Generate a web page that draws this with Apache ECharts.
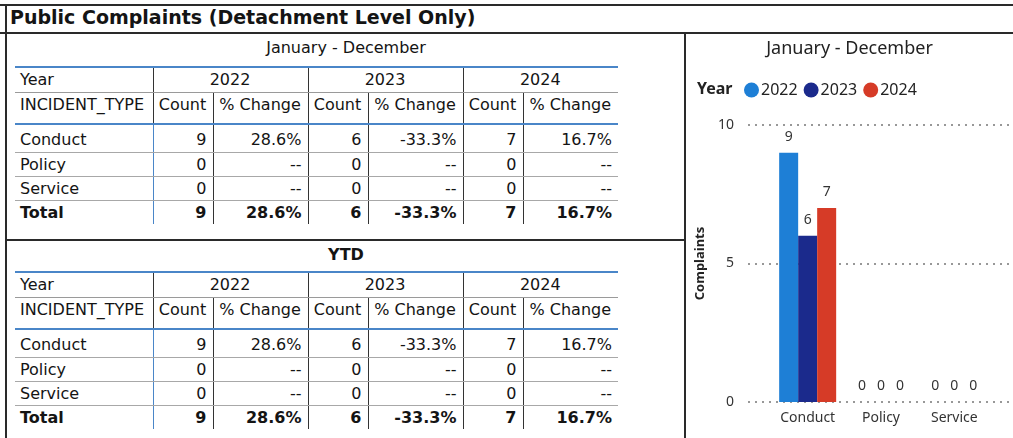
<!DOCTYPE html>
<html>
<head>
<meta charset="utf-8">
<script src="https://cdn.jsdelivr.net/npm/echarts@6/dist/echarts.min.js"></script>
<style>
  html, body { margin: 0; padding: 0; background: #fff; }
  body { width: 1013px; height: 438px; position: relative; overflow: hidden; font-family: "DejaVu Sans", sans-serif; color: #141414; }
  .line { position: absolute; background: #2a2a2a; }
  .title { position: absolute; left: 10px; top: 6px; font-size: 19px; font-weight: bold; }
  .caption { position: absolute; left: 7px; width: 678px; text-align: center; font-size: 16px; }
  table { position: absolute; left: 15px; border-collapse: collapse; table-layout: fixed; font-size: 16px; }
  td { padding: 0 6px 0 5px; height: 23px; white-space: nowrap; line-height: 20px; }
  tr.h1 td { border-top: 2px solid #4a86c8; border-bottom: 1px solid #9a9a9a; height: 24px; }
  tr.h2 td { border-bottom: 2px solid #4a86c8; height: 28px; vertical-align: top; padding-top: 2px; }
  tr.b td { border-bottom: 1px solid #a8a8a8; }
  tr.b.first td { height: 25px; padding-top: 2px; }
  tr.b.last td { border-bottom: none; font-weight: bold; }
  td.c { text-align: center; }
  td.r { text-align: right; }
  td.vl { border-left: 1px solid #333; }
  td.vb { border-left: 1px solid #4a86c8; }
  #chart { position: absolute; left: 686px; top: 34px; width: 327px; height: 404px; }
</style>
</head>
<body>
<div class="line" style="left:0;top:4px;width:1013px;height:2px"></div>
<div class="line" style="left:0;top:32px;width:1013px;height:2px"></div>
<div class="line" style="left:5px;top:4px;width:2px;height:434px"></div>
<div class="line" style="left:684px;top:32px;width:2px;height:406px"></div>
<div class="line" style="left:5px;top:239px;width:681px;height:2px"></div>
<div class="title">Public Complaints (Detachment Level Only)</div>
<div class="caption" style="top:38px">January - December</div>
<div class="caption" style="top:245px;font-weight:bold">YTD</div>
<table id="t1" style="top:66px"></table>
<table id="t2" style="top:271px"></table>
<div id="chart"></div>
<script>
const years = ["2022", "2023", "2024"];
const incidentTypes = ["Conduct", "Policy", "Service"];

// January - December
const count2022 = [9, 0, 0];
const count2023 = [6, 0, 0];
const count2024 = [7, 0, 0];
const pct2022 = ["28.6%", "--", "--"];
const pct2023 = ["-33.3%", "--", "--"];
const pct2024 = ["16.7%", "--", "--"];
const totalCount = [9, 6, 7];
const totalPct = ["28.6%", "-33.3%", "16.7%"];

// YTD
const ytdCount2022 = [9, 0, 0];
const ytdCount2023 = [6, 0, 0];
const ytdCount2024 = [7, 0, 0];
const ytdPct2022 = ["28.6%", "--", "--"];
const ytdPct2023 = ["-33.3%", "--", "--"];
const ytdPct2024 = ["16.7%", "--", "--"];
const ytdTotalCount = [9, 6, 7];
const ytdTotalPct = ["28.6%", "-33.3%", "16.7%"];

const colWidths = [138, 60, 95, 60, 95, 60, 95];
const barColors = ["#1e7fd6", "#1b2a8c", "#d63b27"];

const buildTable = (el, counts, pcts, totals, totalPcts) => {
  let html = "<colgroup>" + colWidths.map((w) => `<col style="width:${w}px">`).join("") + "</colgroup>";
  html += `<tr class="h1"><td>Year</td>` +
    years.map((y) => `<td class="c vl" colspan="2">${y}</td>`).join("") + "</tr>";
  html += `<tr class="h2"><td>INCIDENT_TYPE</td>` +
    years.map(() => `<td class="c vl">Count</td><td class="c vl">% Change</td>`).join("") + "</tr>";
  incidentTypes.forEach((type, i) => {
    const cls = i === 0 ? "b first" : "b";
    html += `<tr class="${cls}"><td>${type}</td>` +
      years.map((_, k) => `<td class="r ${k === 0 ? "vb" : "vl"}">${counts[k][i]}</td><td class="r vl">${pcts[k][i]}</td>`).join("") +
      "</tr>";
  });
  html += `<tr class="b last"><td>Total</td>` +
    years.map((_, k) => `<td class="r ${k === 0 ? "vb" : "vl"}">${totals[k]}</td><td class="r vl">${totalPcts[k]}</td>`).join("") +
    "</tr>";
  el.innerHTML = html;
};

buildTable(document.getElementById("t1"), [count2022, count2023, count2024], [pct2022, pct2023, pct2024], totalCount, totalPct);
buildTable(document.getElementById("t2"), [ytdCount2022, ytdCount2023, ytdCount2024], [ytdPct2022, ytdPct2023, ytdPct2024], ytdTotalCount, ytdTotalPct);

const chart = echarts.init(document.getElementById("chart"));
const seriesData = [count2022, count2023, count2024];

chart.setOption({
  animation: false,
  textStyle: { fontFamily: "Noto Sans" },
  title: [
    { text: "January - December", left: "center", top: 1, textStyle: { fontSize: 18, fontWeight: "normal", color: "#222" } },
    { text: "Year", left: 6, top: 42, textStyle: { fontSize: 16, fontWeight: "bold", color: "#222" } },
  ],
  legend: {
    left: 53,
    top: 43,
    icon: "circle",
    itemWidth: 15,
    itemHeight: 15,
    itemGap: 6,
    textStyle: { fontSize: 16, color: "#222", padding: [0, 0, 0, -3] },
    data: years,
  },
  grid: [
    { left: 62, right: 0, top: 91, bottom: 36 },
    { left: 85, right: 22, top: 91, bottom: 36 },
  ],
  xAxis: [
    { type: "category", gridIndex: 0, data: incidentTypes, show: false },
    {
      type: "category",
      gridIndex: 1,
      data: incidentTypes,
      axisLine: { show: false },
      axisTick: { show: false },
      axisLabel: { fontSize: 14, color: "#333", margin: 9 },
    },
  ],
  yAxis: [
    {
      type: "value",
      gridIndex: 0,
      min: 0,
      max: 10,
      interval: 5,
      name: "Complaints",
      nameLocation: "middle",
      nameGap: 40,
      nameTextStyle: { fontSize: 13, fontWeight: "bold", color: "#222" },
      axisLabel: { fontSize: 14, color: "#333", margin: 14 },
      splitLine: { lineStyle: { type: [2, 5], color: "#777", width: 1.5 } },
    },
    { type: "value", gridIndex: 1, min: 0, max: 10, interval: 5, show: false, splitLine: { show: false } },
  ],
  series: years.map((y, k) => ({
    name: y,
    type: "bar",
    xAxisIndex: 1,
    yAxisIndex: 1,
    data: seriesData[k],
    barWidth: 19,
    barGap: "0%",
    itemStyle: { color: barColors[k] },
    label: { show: true, position: "top", distance: 9, fontSize: 14, color: "#333" },
  })),
  color: barColors,
});
</script>
</body>
</html>
